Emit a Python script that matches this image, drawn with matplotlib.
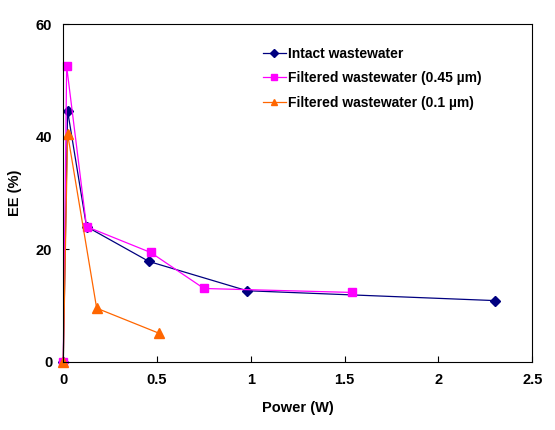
import matplotlib.pyplot as plt

plt.rcParams['font.family'] = ['Liberation Sans', 'DejaVu Sans']
plt.rcParams['font.weight'] = 'bold'

# EE (%) vs power for the three wastewater samples
intact_x = [0, 0.023, 0.124, 0.457, 0.98, 2.30]
intact_y = [0, 44.6, 24.0, 17.8, 12.6, 10.85]

filt45_x = [0, 0.018, 0.124, 0.466, 0.75, 1.54]
filt45_y = [0, 52.5, 24.0, 19.4, 13.0, 12.3]

filt01_x = [0, 0.023, 0.178, 0.51]
filt01_y = [0, 40.5, 9.5, 5.05]

fig = plt.figure(figsize=(5.55, 4.3), dpi=100)
ax = fig.add_axes([0.114, 0.159, 0.845, 0.785])

ax.plot(intact_x, intact_y, color='#000080', marker='D', markersize=5.5, lw=0.9,
        label='Intact wastewater', clip_on=False)
ax.plot(filt45_x, filt45_y, color='#FF00FF', marker='s', markersize=6, lw=0.9,
        label='Filtered wastewater (0.45 µm)', clip_on=False)
ax.plot(filt01_x, filt01_y, color='#FF6600', marker='^', markersize=7, lw=0.9,
        label='Filtered wastewater (0.1 µm)', clip_on=False)

ax.set_xlim(0, 2.5)
ax.set_ylim(0, 60)
ax.set_xticks([0, 0.5, 1, 1.5, 2, 2.5])
ax.set_xticklabels(['0', '0.5', '1', '1.5', '2', '2.5'])
ax.set_yticks([0, 20, 40, 60])
ax.tick_params(direction='in', labelsize=10.5, length=4, pad=8)
for lab in ax.get_xticklabels() + ax.get_yticklabels():
    lab.set_fontweight('bold')

ax.set_xlabel('Power (W)', fontsize=10.5, fontweight='bold', labelpad=10)
ax.set_ylabel('EE (%)', fontsize=10.5, fontweight='bold', labelpad=10)

ax.legend(loc='upper left', bbox_to_anchor=(0.4, 0.97), frameon=False,
          handlelength=1.6, handletextpad=0.2, labelspacing=0.75, markerscale=0.7,
          prop={'weight': 'bold', 'size': 10})

fig.savefig('out.png', dpi=100)
